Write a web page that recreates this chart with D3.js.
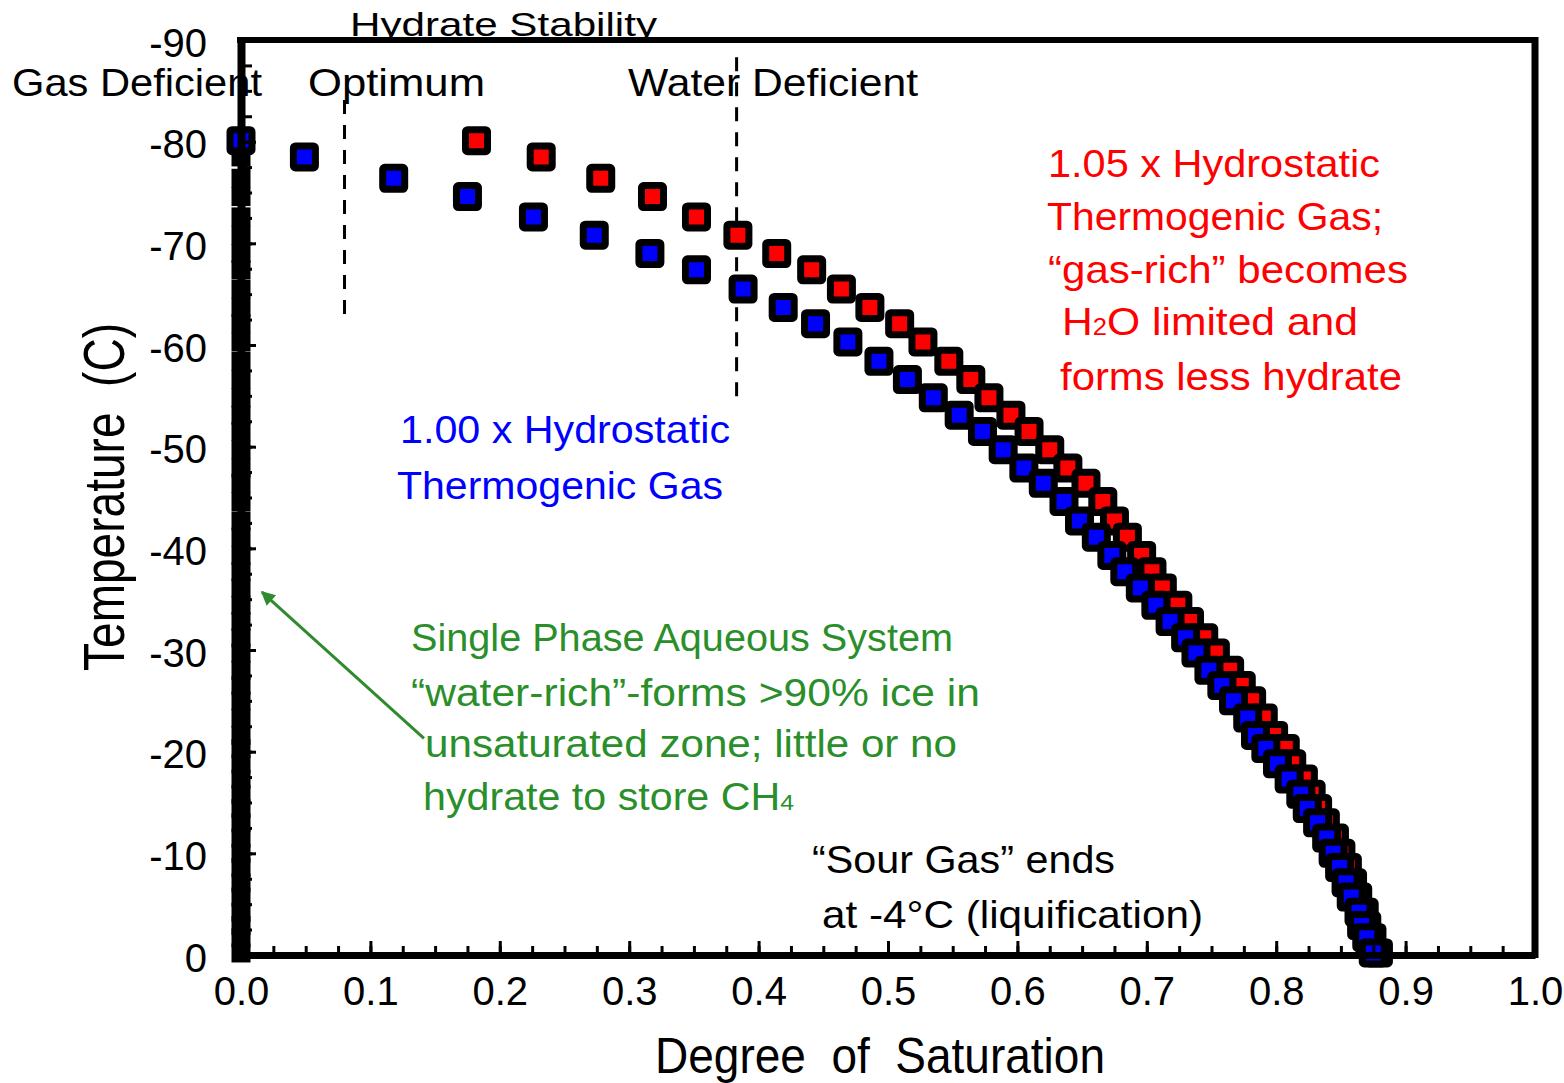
<!DOCTYPE html>
<html>
<head>
<meta charset="utf-8">
<script src="https://cdn.jsdelivr.net/npm/d3@7"></script>
<style>
  body { margin: 0; background: #fff; }
  svg { display: block; }
  text { font-family: "Liberation Sans", Arial, sans-serif; }
</style>
</head>
<body>
<div id="chart"></div>
<script>
// temperature grid (C) shared by the hydrate curves
const temperature = [-80.1, -78.5, -76.4, -74.6, -72.6, -70.8, -69.0, -67.4, -65.5, -63.7,
  -62.1, -60.3, -58.4, -56.6, -54.8, -53.1, -51.5, -49.7, -47.9, -46.4,
  -44.6, -42.7, -41.1, -39.3, -37.7, -36.1, -34.4, -32.8, -31.2, -29.7,
  -28.0, -26.5, -25.0, -23.3, -21.6, -20.3, -18.8, -17.3, -15.8, -14.4,
  -13.0, -11.5, -10.0, -8.6, -7.1, -5.7, -4.2, -2.9, -1.7, -0.2];

// 1.00 x hydrostatic (blue)
const satHydro100 = [0.000, 0.049, 0.118, 0.175, 0.226, 0.273, 0.316, 0.352, 0.388, 0.419,
  0.444, 0.469, 0.493, 0.515, 0.535, 0.555, 0.573, 0.589, 0.605, 0.620,
  0.636, 0.648, 0.661, 0.673, 0.683, 0.695, 0.707, 0.718, 0.730, 0.738,
  0.748, 0.758, 0.767, 0.778, 0.784, 0.792, 0.801, 0.810, 0.819, 0.824,
  0.832, 0.839, 0.844, 0.849, 0.854, 0.858, 0.864, 0.866, 0.870, 0.875];

// 1.05 x hydrostatic (red)
const satHydro105 = [0.182, 0.232, 0.278, 0.318, 0.352, 0.384, 0.414, 0.441, 0.464, 0.486,
  0.509, 0.527, 0.547, 0.564, 0.578, 0.595, 0.609, 0.625, 0.639, 0.653,
  0.666, 0.675, 0.685, 0.696, 0.704, 0.712, 0.724, 0.733, 0.744, 0.753,
  0.764, 0.773, 0.781, 0.790, 0.798, 0.807, 0.812, 0.821, 0.827, 0.832,
  0.838, 0.845, 0.850, 0.855, 0.859, 0.863, 0.868, 0.870, 0.874, 0.879];

// single phase aqueous system, stacked on the y axis
const waterRichTemp = [-78.5, -76.4, -74.6, -72.6, -70.8, -69.0, -67.4, -65.5, -63.7,
  -62.1, -60.3, -58.4, -56.6, -54.8, -53.1, -51.5, -49.7, -47.9, -46.4,
  -44.6, -42.7, -41.1, -39.3, -37.7, -36.1, -34.4, -32.8, -31.2, -29.7,
  -28.0, -26.5, -25.0, -23.3, -21.6, -20.3, -18.8, -17.3, -15.8, -14.4,
  -13.0, -11.5, -10.0, -8.6, -7.1, -5.7, -4.2, -2.9, -1.7, -0.2];
const waterRichSat = [0, 0, 0, 0, 0, 0, 0, 0, 0,
  0, 0, 0, 0, 0, 0, 0, 0, 0, 0,
  0, 0, 0, 0, 0, 0, 0, 0, 0, 0,
  0, 0, 0, 0, 0, 0, 0, 0, 0, 0,
  0, 0, 0, 0, 0, 0, 0, 0, 0, 0];

const xTicks = [0.0, 0.1, 0.2, 0.3, 0.4, 0.5, 0.6, 0.7, 0.8, 0.9, 1.0];
const yTicks = [-90, -80, -70, -60, -50, -40, -30, -20, -10, 0];

// boundaries of the stability zones
const zoneBounds = [0.08, 0.383];

const W = 1564, H = 1083;
const margin = {top: 40, right: 29, bottom: 128, left: 241};
const width = W - margin.left - margin.right;
const height = H - margin.top - margin.bottom;

const svg = d3.select('#chart').append('svg')
  .attr('width', W)
  .attr('height', H);

const defs = svg.append('defs');
defs.append('marker')
  .attr('id', 'arrow')
  .attr('viewBox', '0 0 10 10')
  .attr('refX', 9).attr('refY', 5)
  .attr('markerUnits', 'userSpaceOnUse')
  .attr('markerWidth', 18).attr('markerHeight', 14)
  .attr('orient', 'auto')
  .append('path')
  .attr('d', 'M0,0 L10,5 L0,10 z')
  .attr('fill', '#2e8b2e');

const x = d3.scaleLinear().domain([0, 1]).range([margin.left, margin.left + width]);
const y = d3.scaleLinear().domain([0, -90]).range([margin.top + height, margin.top]);

// ---- annotations (drawn first, frame goes over them)
const notes = svg.append('g').attr('class', 'notes');

function note(lines, color, size) {
  lines.forEach(l => {
    const t = notes.append('text')
      .attr('x', l.x)
      .attr('y', l.y)
      .attr('fill', color)
      .style('font-size', (l.size || size) + 'px')
      .attr('textLength', l.len)
      .attr('lengthAdjust', 'spacingAndGlyphs');
    if (l.sub) {
      t.append('tspan').text(l.text);
      t.append('tspan').style('font-size', '0.6em').text(l.sub);
      if (l.rest) t.append('tspan').text(l.rest);
    } else {
      t.text(l.text);
    }
  });
}

note([
  {text: 'Hydrate Stability', x: 350, y: 36, len: 307, size: 33},
  {text: 'Gas Deficient', x: 12, y: 96, len: 250},
  {text: 'Optimum', x: 308, y: 96, len: 177},
  {text: 'Water Deficient', x: 628, y: 96, len: 290}
], '#000', 39);

note([
  {text: '1.05 x Hydrostatic', x: 1048, y: 177, len: 332},
  {text: 'Thermogenic Gas;', x: 1047, y: 230, len: 336},
  {text: '\u201cgas-rich\u201d becomes', x: 1048, y: 283, len: 360},
  {text: 'H', sub: '2', rest: 'O limited and', x: 1062, y: 335, len: 296},
  {text: 'forms less hydrate', x: 1060, y: 390, len: 342}
], '#ff0000', 39);

note([
  {text: '1.00 x Hydrostatic', x: 400, y: 443, len: 330},
  {text: 'Thermogenic Gas', x: 397, y: 499, len: 326}
], '#0000ff', 39);

note([
  {text: 'Single Phase Aqueous System', x: 411, y: 651, len: 542},
  {text: '\u201cwater-rich\u201d-forms >90% ice in', x: 411, y: 706, len: 569},
  {text: 'unsaturated zone; little or no', x: 425, y: 757, len: 532},
  {text: 'hydrate to store CH', sub: '4', x: 423, y: 810, len: 371}
], '#2a8f2a', 38);

note([
  {text: '\u201cSour Gas\u201d ends', x: 812, y: 873, len: 303},
  {text: 'at -4\u00b0C (liquification)', x: 822, y: 928, len: 381}
], '#000', 39);

// zone boundaries
svg.append('line')
  .attr('x1', x(zoneBounds[0])).attr('x2', x(zoneBounds[0]))
  .attr('y1', y(-84.1)).attr('y2', y(-62.2))
  .attr('stroke', '#000').attr('stroke-width', 3)
  .attr('stroke-dasharray', '14 11');
svg.append('line')
  .attr('x1', x(zoneBounds[1])).attr('x2', x(zoneBounds[1]))
  .attr('y1', y(-88.3)).attr('y2', y(-54.6))
  .attr('stroke', '#000').attr('stroke-width', 3)
  .attr('stroke-dasharray', '14 11');

// arrow to the water-rich stack
svg.append('line')
  .attr('x1', x(0.1414)).attr('y1', y(-21.3))
  .attr('x2', x(0.0162)).attr('y2', y(-35.7))
  .attr('stroke', '#2e8b2e').attr('stroke-width', 3)
  .attr('marker-end', 'url(#arrow)');

// ---- points
function drawSeries(sat, temps, fill, size, strokeW, r) {
  const pts = temps.map((t, i) => ({s: sat[i], t}));
  svg.append('g').selectAll('rect')
    .data(pts)
    .join('rect')
    .attr('x', d => x(d.s) - size / 2)
    .attr('y', d => y(d.t) - size / 2)
    .attr('width', size)
    .attr('height', size)
    .attr('rx', r)
    .attr('fill', fill)
    .attr('stroke', '#000')
    .attr('stroke-width', strokeW);
}

drawSeries(satHydro105, temperature, '#ff0000', 22, 7, 2);
drawSeries(satHydro100, temperature, '#0000ff', 22, 7, 2);
drawSeries(waterRichSat, waterRichTemp, '#000', 19, 0, 0);

// ---- axes
const hyphen = d => String(d);

const xAxis = svg.append('g')
  .attr('transform', `translate(0,${margin.top + height})`);
xAxis.append('g')
  .call(d3.axisBottom(x).tickValues(d3.range(0, 1.0001, 0.025)).tickSize(-9).tickSizeOuter(0).tickFormat(''))
  .call(g => g.select('.domain').remove())
  .call(g => g.selectAll('line').attr('stroke-width', 3));
xAxis.append('g')
  .call(d3.axisBottom(x).tickValues(xTicks).tickSize(-14).tickSizeOuter(0).tickPadding(22).tickFormat(d3.format('.1f')))
  .call(g => g.select('.domain').attr('stroke-width', 7))
  .call(g => g.selectAll('line').attr('stroke-width', 3))
  .call(g => g.selectAll('text').style('font-size', '40px').attr('fill', '#000')
    .style('font-family', '"Liberation Sans", Arial, sans-serif'));

const yAxis = svg.append('g')
  .attr('transform', `translate(${margin.left},0)`);
yAxis.append('g')
  .call(d3.axisLeft(y).tickValues(d3.range(-90, 0.001, 2.5)).tickSize(-11).tickSizeOuter(0).tickFormat(''))
  .call(g => g.select('.domain').remove())
  .call(g => g.selectAll('line').attr('stroke-width', 3));
yAxis.append('g')
  .call(d3.axisLeft(y).tickValues(yTicks).tickSize(-15).tickSizeOuter(0).tickPadding(34).tickFormat(hyphen))
  .call(g => g.select('.domain').attr('stroke-width', 8))
  .call(g => g.selectAll('line').attr('stroke-width', 3))
  .call(g => g.selectAll('text').style('font-size', '40px').attr('fill', '#000').attr('dy', '0.40em')
    .style('font-family', '"Liberation Sans", Arial, sans-serif'));

// top and right frame
svg.append('line')
  .attr('x1', margin.left - 4).attr('x2', margin.left + width + 3)
  .attr('y1', margin.top).attr('y2', margin.top)
  .attr('stroke', '#000').attr('stroke-width', 6);
svg.append('line')
  .attr('x1', margin.left + width).attr('x2', margin.left + width)
  .attr('y1', margin.top - 3).attr('y2', margin.top + height + 3)
  .attr('stroke', '#000').attr('stroke-width', 7);

// axis titles
svg.append('text')
  .attr('x', 880)
  .attr('y', 1073)
  .attr('text-anchor', 'middle')
  .style('font-size', '50px')
  .style('white-space', 'pre')
  .attr('textLength', 450)
  .attr('lengthAdjust', 'spacingAndGlyphs')
  .text('Degree  of  Saturation');

svg.append('text')
  .attr('transform', 'translate(124,497) rotate(-90)')
  .attr('text-anchor', 'middle')
  .style('font-size', '58px')
  .style('white-space', 'pre')
  .attr('textLength', 348)
  .attr('lengthAdjust', 'spacingAndGlyphs')
  .text('Temperature  (C)');
</script>
</body>
</html>
